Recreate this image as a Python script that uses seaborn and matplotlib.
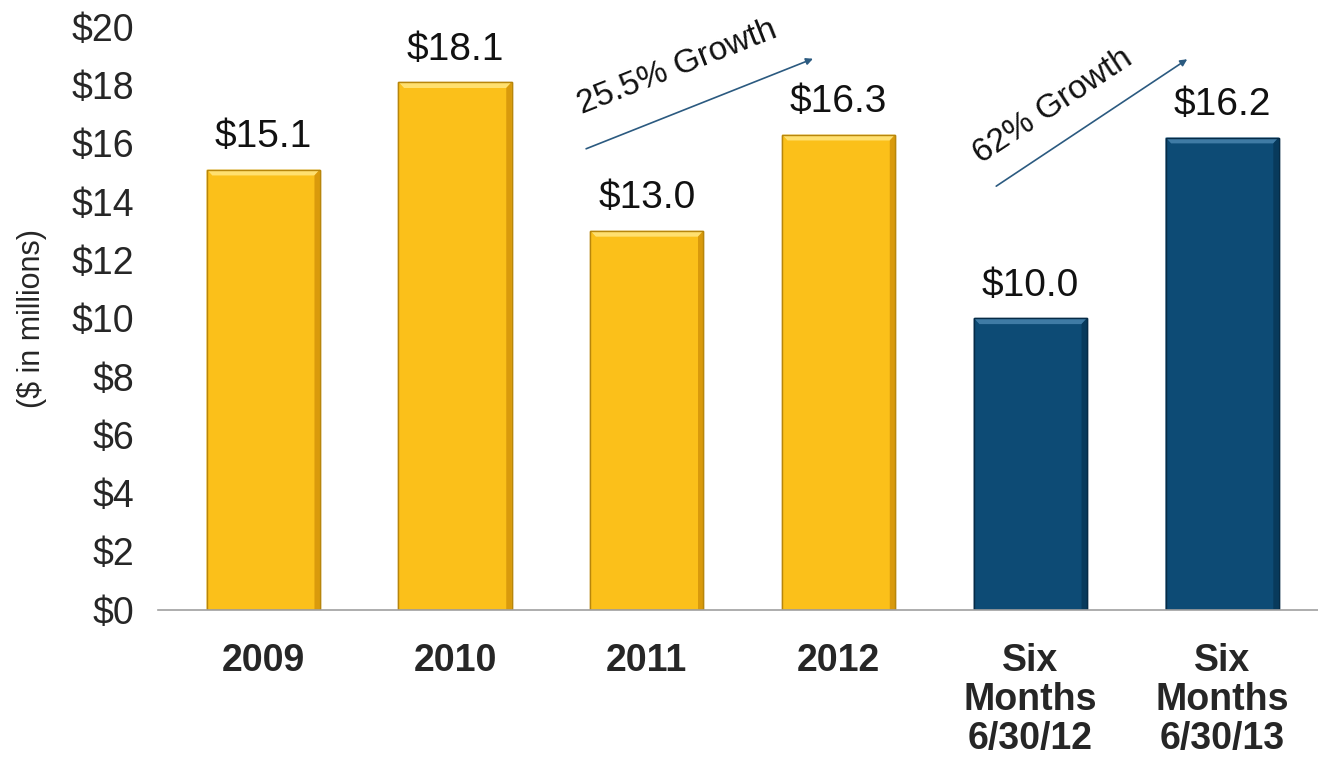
import matplotlib
matplotlib.use("Agg")
import matplotlib.pyplot as plt
from matplotlib.patches import Polygon
import seaborn as sns
import pandas as pd

categories = ["2009", "2010", "2011", "2012", "Six\nMonths\n6/30/12", "Six\nMonths\n6/30/13"]
values = [15.1, 18.1, 13.0, 16.3, 10.0, 16.2]
value_labels = ["$15.1", "$18.1", "$13.0", "$16.3", "$10.0", "$16.2"]
period = ["Annual", "Annual", "Annual", "Annual", "Six Months", "Six Months"]
yticks = [0, 2, 4, 6, 8, 10, 12, 14, 16, 18, 20]
ytick_labels = ["$0", "$2", "$4", "$6", "$8", "$10", "$12", "$14", "$16", "$18", "$20"]

sns.set_style("white")
plt.rcParams["font.family"] = ["Liberation Sans", "DejaVu Sans"]

df = pd.DataFrame({"cat": categories, "val": values, "period": period})
palette = {"Annual": "#FBC01A", "Six Months": "#0D4B75"}
edge = {"Annual": "#B8860B", "Six Months": "#062B46"}
light = {"Annual": "#FFE070", "Six Months": "#3F7BA5"}
dark = {"Annual": "#D99A0C", "Six Months": "#083A5C"}

fig = plt.figure(figsize=(13.18, 7.66), dpi=100)
ax = fig.add_axes([0.127, 0.204, 0.873, 0.761])
sns.barplot(data=df, x="cat", y="val", hue="period", palette=palette,
            dodge=False, width=0.59, legend=False, ax=ax, saturation=1)

# bevel effect derived from each bar's own geometry
bx, by = 0.028, 0.2
for p, per in zip(ax.patches, period):
    x0, w, h = p.get_x(), p.get_width(), p.get_height()
    x1 = x0 + w
    p.set_edgecolor(edge[per])
    p.set_linewidth(1.0)
    top = Polygon([(x0, h), (x1, h), (x1 - bx, h - by), (x0 + bx, h - by)],
                  closed=True, facecolor=light[per], edgecolor="none", zorder=p.get_zorder() + 0.1)
    left = Polygon([(x0, 0), (x0, h), (x0 + bx, h - by), (x0 + bx, 0)],
                   closed=True, facecolor=palette[per], edgecolor="none", zorder=p.get_zorder() + 0.1)
    right = Polygon([(x1, 0), (x1, h), (x1 - bx, h - by), (x1 - bx, 0)],
                    closed=True, facecolor=dark[per], edgecolor="none", zorder=p.get_zorder() + 0.1)
    for poly in (top, left, right):
        ax.add_patch(poly)
    outline = Polygon([(x0, 0), (x0, h), (x1, h), (x1, 0)], closed=True, facecolor="none",
                      edgecolor=edge[per], linewidth=1.0, zorder=p.get_zorder() + 0.2)
    ax.add_patch(outline)

# value labels
for i, (v, lab) in enumerate(zip(values, value_labels)):
    ax.text(i, v + 0.5, lab, ha="center", va="bottom", fontsize=28, color="#111111")

ax.set_ylim(0, 20)
ax.set_xlim(-0.5, 5.5)
ax.set_yticks(yticks)
ax.set_yticklabels(ytick_labels, fontsize=27)
ax.set_xticks(range(len(categories)))
ax.set_xticklabels(categories, fontsize=27, fontweight="bold", linespacing=1.1)
ax.tick_params(axis="x", length=0, pad=24)
ax.tick_params(axis="y", length=0, pad=24)
ax.set_xticks([i - 0.5 for i in range(len(categories) + 1)], minor=True)
ax.tick_params(axis="x", which="minor", length=10, color="#A0A0A0", width=1.2, direction="out")

ax.set_xlabel("")
ax.set_ylabel("($ in millions)", fontsize=22)
ax.yaxis.set_label_coords(-0.105, 0.5)

for s in ["top", "right", "left"]:
    ax.spines[s].set_visible(False)
ax.spines["bottom"].set_color("#A0A0A0")
ax.spines["bottom"].set_linewidth(1.2)
ax.spines["bottom"].set_bounds(-0.55, 5.5)

# growth arrows
ax.annotate("", xy=(2.88, 18.94), xytext=(1.67, 15.78),
            arrowprops=dict(arrowstyle="-|>", color="#2B5A80", lw=1.2, mutation_scale=10))
ax.annotate("", xy=(4.83, 18.94), xytext=(3.81, 14.48),
            arrowprops=dict(arrowstyle="-|>", color="#2B5A80", lw=1.2, mutation_scale=10))
ax.text(2.16, 18.6, "25.5% Growth", rotation=21.5, ha="center", va="center",
        fontsize=24, color="#111111", rotation_mode="anchor")
ax.text(4.12, 17.26, "62% Growth", rotation=33.5, ha="center", va="center",
        fontsize=24, color="#111111", rotation_mode="anchor")

fig.savefig("out.png", dpi=100)
